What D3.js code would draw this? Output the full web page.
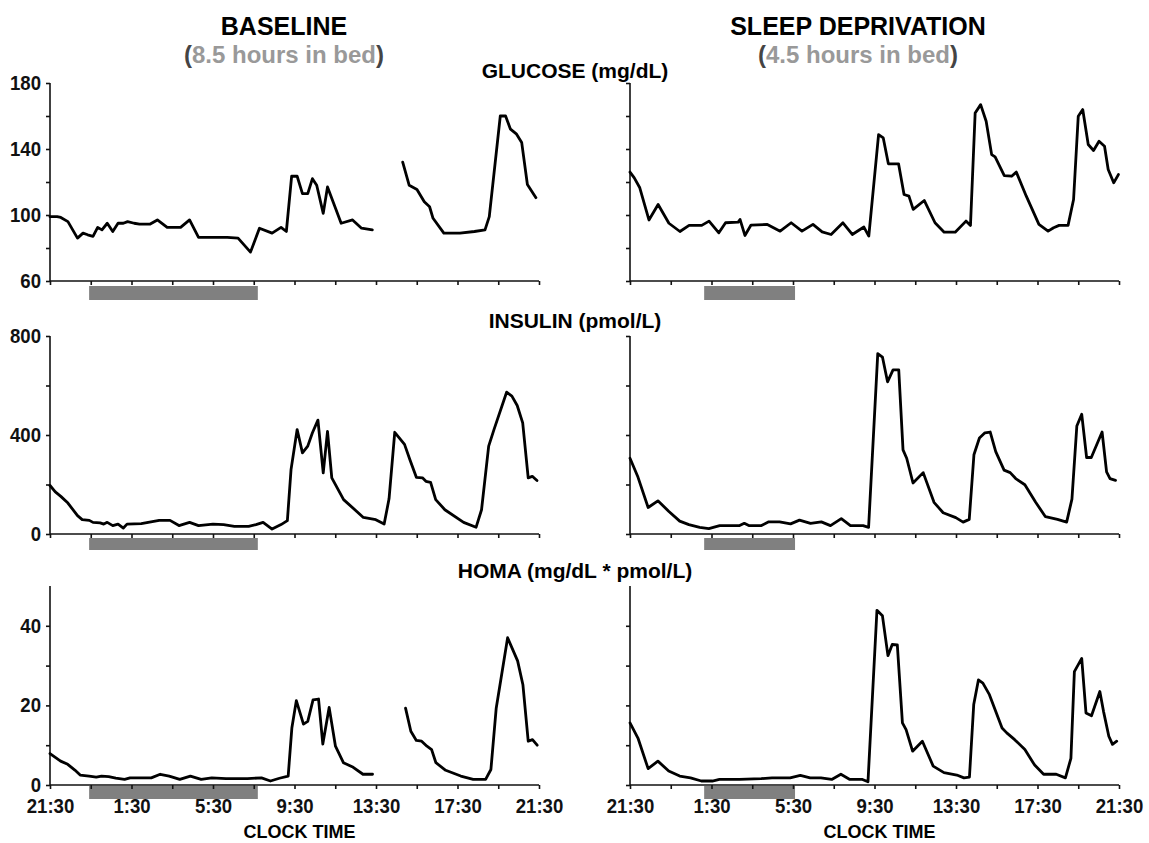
<!DOCTYPE html>
<html>
<head>
<meta charset="utf-8">
<script src="https://cdn.jsdelivr.net/npm/d3@7"></script>
<style>
  body { margin: 0; background: #fff; }
  text { font-family: "Liberation Sans", Arial, sans-serif; font-weight: bold; }
</style>
</head>
<body>
<svg id="chart" width="1149" height="843"></svg>
<script>
// Each point: [hours elapsed since 21:30 on the first evening, value]; null marks a gap in sampling.
const baselineGlucose = [
  [0,99],[0.35,99],[0.53,98.5],[0.88,96],[1.35,86],[1.62,89],[1.85,88],[2.11,87],[2.34,92.5],[2.55,91],
  [2.81,95],[3.08,90],[3.34,95],[3.6,95],[3.81,96],[4.13,95],[4.39,94.5],[4.92,94.5],[5.27,97],[5.75,92.5],
  [6.41,92.5],[6.85,97],[7.29,86.5],[8.7,86.5],[9.23,86],[9.84,77.5],[10.28,92],[10.9,89],[11.34,92.5],[11.6,90],
  [11.86,123.5],[12.13,123.5],[12.39,113],[12.65,113],[12.88,122],[13.09,118],[13.41,101],[13.62,117],[14.29,95],
  [14.85,97],[15.29,92],[15.82,91],[16.5,null],
  [17.31,132],[17.63,118],[18.01,115.5],[18.37,108],[18.63,105],[18.8,98],[19.33,89],[20.12,89],[20.83,90],
  [21.35,91],[21.56,99],[22.1,160],[22.36,160],[22.6,152],[22.9,149],[23.15,144],[23.43,118.5],[23.85,110.5]
];
const sleepDepGlucose = [
  [0,126],[0.21,122.5],[0.48,116.5],[0.93,97],[1.38,106.4],[1.91,95],[2.45,90],[2.9,93.7],[3.52,93.7],[3.88,96.3],
  [4.36,89.2],[4.69,95.3],[5.31,95.7],[5.4,97.3],[5.64,87.6],[5.94,93.9],[6.74,94.3],[7.37,90.2],[7.91,95.3],
  [8.44,90.2],[8.98,94.3],[9.43,89.8],[9.87,88.2],[10.45,95.3],[10.91,88.2],[11.48,92.7],[11.72,87.2],
  [12.2,148.7],[12.43,146.7],[12.68,131],[13.18,131],[13.45,112.4],[13.69,111.4],[13.9,103.4],[14.44,108.8],
  [14.97,95.3],[15.42,89.6],[15.96,89.6],[16.49,96.3],[16.71,93.7],[16.94,161.8],[17.21,166.9],[17.48,156.8],
  [17.75,136.6],[17.92,135.2],[18.37,123.9],[18.73,123.5],[18.96,126],[19.45,111.4],[20.07,94.3],[20.52,90.2],
  [20.79,92.3],[21.06,93.7],[21.5,93.7],[21.77,109.4],[22.0,159.8],[22.22,163.9],[22.49,142.7],[22.75,139.1],
  [23.02,144.7],[23.29,141.7],[23.47,127.6],[23.74,119.5],[23.97,124.5]
];
const baselineInsulin = [
  [0,196],[0.26,170],[0.53,152],[0.88,125],[1.35,74],[1.58,58],[1.93,55],[2.11,47],[2.46,45],[2.64,40],
  [2.81,47],[3.08,34],[3.34,40],[3.6,24],[3.78,40],[4.48,42],[5.36,55],[5.89,55],[6.33,34],[6.85,47],
  [7.29,34],[8.0,40],[8.52,38],[9.05,31],[9.75,31],[10.11,38],[10.46,47],[10.9,20],[11.34,38],[11.65,54],
  [11.83,260],[12.13,422],[12.39,328],[12.65,355],[12.88,409],[13.15,460],[13.41,247],[13.62,415],[13.83,227],
  [14.41,139],[15.38,67],[15.99,58],[16.4,40],[16.64,142],[16.92,411],[17.4,362],[17.66,301],[17.98,229],
  [18.28,227],[18.45,213],[18.68,209],[18.93,139],[19.38,98],[20.3,47],[20.91,27],[21.18,98],[21.53,355],
  [21.79,422],[22.41,573],[22.67,557],[22.93,519],[23.2,449],[23.47,227],[23.67,233],[23.9,216]
];
const sleepDepInsulin = [
  [0,306],[0.39,230],[0.89,107],[1.37,134],[1.91,91],[2.44,52],[2.89,38],[3.42,27],[3.87,22],[4.4,34],
  [5.38,34],[5.61,43],[5.83,34],[6.45,34],[6.81,49],[7.34,49],[7.88,41],[8.32,56],[8.86,43],[9.39,49],
  [9.84,34],[10.37,62],[10.82,34],[11.44,34],[11.71,27],[12.16,729],[12.39,715],[12.64,615],[12.91,663],
  [13.19,663],[13.4,340],[13.58,306],[13.89,206],[14.39,248],[14.92,128],[15.37,86],[15.99,66],[16.35,48],
  [16.65,59],[16.88,320],[17.15,388],[17.42,409],[17.68,412],[17.95,333],[18.36,258],[18.66,248],[18.93,224],
  [19.38,199],[19.91,128],[20.39,70],[20.98,59],[21.43,48],[21.69,141],[21.93,436],[22.17,484],[22.41,309],
  [22.64,309],[23.17,412],[23.39,251],[23.56,224],[23.83,217]
];
const baselineHoma = [
  [0,7.9],[0.52,6],[0.87,5.2],[1.22,3.75],[1.48,2.5],[1.92,2.25],[2.27,2],[2.53,2.25],[2.88,2.1],[3.23,1.7],
  [3.66,1.4],[3.93,1.8],[4.97,1.8],[5.41,2.7],[5.85,2.25],[6.37,1.4],[6.89,2.25],[7.42,1.4],[7.94,1.8],
  [8.64,1.6],[9.69,1.6],[10.38,1.8],[10.82,1.0],[11.26,1.7],[11.69,2.25],[11.87,14.3],[12.09,21.2],[12.44,15.3],
  [12.65,16],[12.91,21.4],[13.18,21.6],[13.39,10.3],[13.7,19.5],[14.01,9.75],[14.4,5.6],[14.83,4.6],[15.36,2.7],
  [15.83,2.7],[16.5,null],
  [17.45,19.3],[17.71,13.5],[17.98,11.2],[18.24,11],[18.5,9.75],[18.73,8.9],[18.94,5.6],[19.42,3.7],[20.16,2.25],
  [20.77,1.4],[21.38,1.4],[21.64,3.9],[21.9,19.3],[22.46,37],[22.95,31.2],[23.21,25.2],[23.47,11],[23.68,11.4],
  [23.91,10]
];
const sleepDepHoma = [
  [0,15.6],[0.39,11.8],[0.89,4.1],[1.37,6],[1.9,3.5],[2.44,2.25],[2.97,1.8],[3.5,1.0],[4.04,1.0],[4.39,1.4],
  [5.37,1.4],[6.44,1.6],[6.97,1.8],[7.86,1.8],[8.36,2.4],[8.84,1.8],[9.37,1.8],[9.9,1.4],[10.35,2.7],[10.79,1.4],
  [11.41,1.4],[11.68,0.8],[12.12,43.9],[12.39,42.5],[12.66,32.5],[12.87,35.3],[13.12,35.2],[13.37,15.6],
  [13.55,13.9],[13.87,8.5],[14.35,11],[14.88,4.75],[15.41,3.1],[16.04,2.5],[16.39,1.8],[16.66,2],[16.87,20.2],
  [17.1,26.4],[17.32,25.6],[17.64,22.7],[18.26,14.3],[18.49,13.1],[18.88,11.4],[19.38,8.9],[19.86,5],[20.3,2.7],
  [20.92,2.7],[21.37,1.8],[21.64,6.7],[21.81,28.5],[22.17,31.8],[22.38,18.1],[22.65,17.4],[23.06,23.5],
  [23.24,18.5],[23.5,12.25],[23.68,10.2],[23.89,11]
];

// Time in bed, hours since 21:30
const bedBaseline = [1.92, 10.2];
const bedSleepDep = [3.64, 8.1];

const clockHours = [0, 4, 8, 12, 16, 20, 24];
const clockLabels = ["21:30", "1:30", "5:30", "9:30", "13:30", "17:30", "21:30"];
const minorHours = d3.range(0, 25, 2);

const glucoseTicks = [60, 80, 100, 120, 140, 160, 180];
const glucoseLabels = [60, 100, 140, 180];
const insulinTicks = [0, 200, 400, 600, 800];
const insulinLabels = [0, 400, 800];
const homaTicks = [0, 10, 20, 30, 40];
const homaLabels = [0, 20, 40];

const svg = d3.select("#chart");

// squeeze a text element horizontally, keeping its anchor
function condense(sel, k) {
  sel.each(function () {
    const w = this.getComputedTextLength();
    if (w > 0) d3.select(this).attr("textLength", w * k).attr("lengthAdjust", "spacingAndGlyphs");
  });
}

const columns = [
  { x0: 50, x1: 539, bed: bedBaseline, showLabels: true },
  { x0: 630, x1: 1119, bed: bedSleepDep, showLabels: false }
];
const rows = [
  { domain: [60, 180], y0: 281, y1: 83, ticks: glucoseTicks, labels: glucoseLabels,
    series: [baselineGlucose, sleepDepGlucose], bottom: false, barGap: 5, barH: 14 },
  { domain: [0, 800], y0: 534, y1: 336, ticks: insulinTicks, labels: insulinLabels,
    series: [baselineInsulin, sleepDepInsulin], bottom: false, barGap: 4, barH: 12 },
  { domain: [0, 50], y0: 785, y1: 586, ticks: homaTicks, labels: homaLabels,
    series: [baselineHoma, sleepDepHoma], bottom: true, barGap: 1, barH: 13 }
];

rows.forEach(row => {
  columns.forEach((col, ci) => {
    const x = d3.scaleLinear().domain([0, 24]).range([col.x0, col.x1]);
    const y = d3.scaleLinear().domain(row.domain).range([row.y0, row.y1]);
    const g = svg.append("g");

    // sleep period bar under the time axis
    g.append("rect")
      .attr("x", x(col.bed[0]))
      .attr("width", x(col.bed[1]) - x(col.bed[0]))
      .attr("y", row.y0 + row.barGap)
      .attr("height", row.barH)
      .attr("fill", "#808080");

    // time axis
    const xa = d3.axisBottom(x)
      .tickValues(minorHours)
      .tickSize(4)
      .tickPadding(10)
      .tickFormat(d => {
        if (!row.bottom) return "";
        const i = clockHours.indexOf(d);
        return i >= 0 ? clockLabels[i] : "";
      });
    const xg = g.append("g").attr("transform", `translate(0,${row.y0})`).call(xa);
    xg.select(".domain").attr("d", `M${col.x0},0H${col.x1}`);

    // value axis
    const ya = d3.axisLeft(y)
      .tickValues(row.ticks)
      .tickSize(4)
      .tickPadding(5)
      .tickFormat(d => (col.showLabels && row.labels.includes(d)) ? d : "");
    const yg = g.append("g").attr("transform", `translate(${col.x0},0)`).call(ya);
    yg.select(".domain").attr("d", `M0,${row.y0}V${row.y1}`);

    [xg, yg].forEach(a => {
      a.selectAll(".domain, line").attr("stroke", "#111").attr("stroke-width", 1.6);
      const t = a.selectAll("text").attr("fill", "#111").style("font-size", "20px")
        .style("font-family", "'Liberation Sans', Arial, sans-serif").style("font-weight", "bold");
      condense(t, 0.93);
    });

    // series line
    const line = d3.line()
      .defined(d => d[1] !== null)
      .x(d => x(d[0]))
      .y(d => y(d[1]));
    g.append("path")
      .datum(row.series[ci])
      .attr("d", line)
      .attr("fill", "none")
      .attr("stroke", "#000")
      .attr("stroke-width", 2.8)
      .attr("stroke-linejoin", "round")
      .attr("stroke-linecap", "round");
  });
});

// headings
function heading(cx, title, hours) {
  svg.append("text").attr("x", cx).attr("y", 35).attr("text-anchor", "middle")
    .style("font-size", "25px").attr("fill", "#000").text(title);
  const t = svg.append("text").attr("x", cx).attr("y", 63).attr("text-anchor", "middle")
    .style("font-size", "24px");
  t.append("tspan").attr("fill", "#444").text("(");
  t.append("tspan").attr("fill", "#999").text(hours + " hours in bed");
  t.append("tspan").attr("fill", "#444").text(")");
}
heading(284, "BASELINE", "8.5");
heading(858, "SLEEP DEPRIVATION", "4.5");

const panelTitles = [
  { y: 78, text: "GLUCOSE (mg/dL)" },
  { y: 328, text: "INSULIN (pmol/L)" },
  { y: 578, text: "HOMA (mg/dL * pmol/L)" }
];
panelTitles.forEach(p => {
  svg.append("text").attr("x", 575).attr("y", p.y).attr("text-anchor", "middle")
    .style("font-size", "21px").attr("fill", "#000").text(p.text);
});

columns.forEach(col => {
  svg.append("text").attr("x", (col.x0 + col.x1) / 2 + 5).attr("y", 838).attr("text-anchor", "middle")
    .style("font-size", "18px").attr("fill", "#000").text("CLOCK TIME");
});
</script>
</body>
</html>
